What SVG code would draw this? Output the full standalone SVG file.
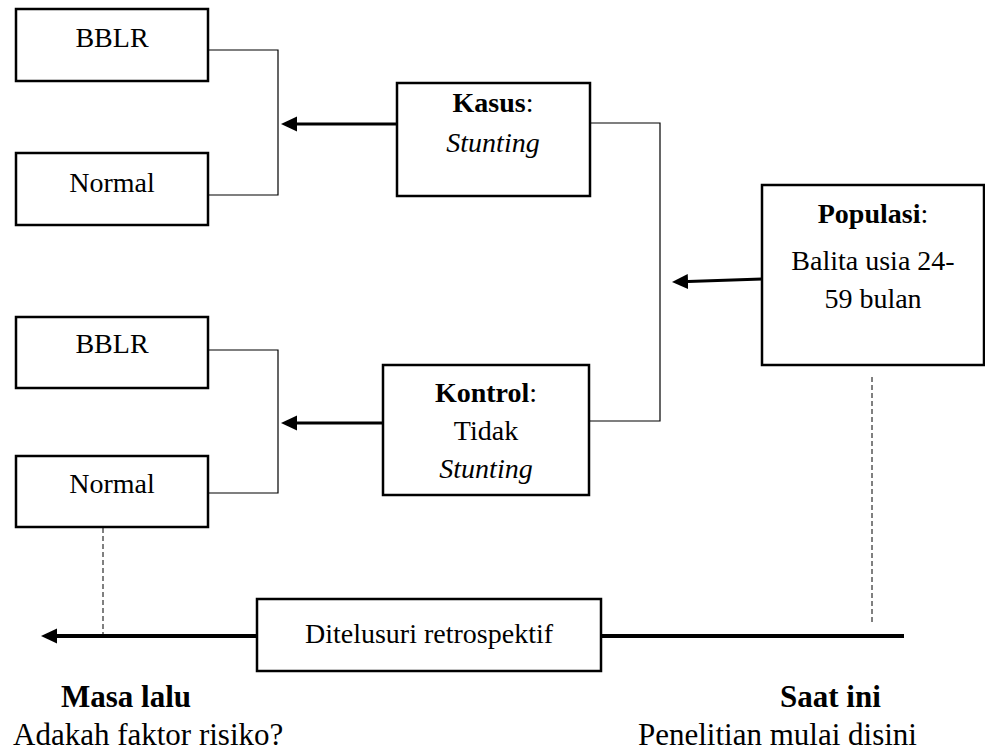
<svg xmlns="http://www.w3.org/2000/svg" width="985" height="753" viewBox="0 0 985 753">
<style>
.box{fill:#fff;stroke:#000;stroke-width:2.5}
text{font-family:'Liberation Serif','Times New Roman','DejaVu Serif',serif;fill:#000}
.t{font-size:28px}
.tb{font-size:31px}
.c{text-anchor:middle}
.thin{fill:none;stroke:#000;stroke-width:1.2}
.arr{fill:none;stroke:#000;stroke-width:3}
.dash{fill:none;stroke:#000;stroke-width:1;stroke-dasharray:5 3}
</style>
<defs>
<marker id="ah" markerUnits="userSpaceOnUse" markerWidth="16" markerHeight="16" refX="0" refY="8" orient="auto" viewBox="0 0 16 16">
<path d="M0,0.5 L16,8 L0,15.5 z" fill="#000"/>
</marker>
</defs>
<rect width="985" height="753" fill="#fff"/>
<g id="connectors">
<polyline class="thin" points="208,50 278,50 278,195 208,195"/>
<polyline class="thin" points="208,350 278,350 278,493 208,493"/>
<polyline class="thin" points="590,123 660,123 660,421 589,421"/>
<line class="arr" x1="397" y1="124" x2="297" y2="124" marker-end="url(#ah)"/>
<line class="arr" x1="383" y1="423" x2="297" y2="423" marker-end="url(#ah)"/>
<line class="arr" x1="762" y1="279" x2="688" y2="281.5" marker-end="url(#ah)"/>
<line class="dash" x1="103" y1="528" x2="103" y2="634"/>
<line class="dash" x1="872" y1="377" x2="872" y2="623"/>
<line fill="none" stroke="#000" stroke-width="4" x1="904" y1="636" x2="57" y2="636" marker-end="url(#ah)"/>
</g>
<g id="bblr1"><rect class="box" x="16" y="9" width="192" height="72"/><text class="t c" x="112" y="47">BBLR</text></g>
<g id="normal1"><rect class="box" x="16" y="153" width="192" height="72"/><text class="t c" x="112" y="192">Normal</text></g>
<g id="bblr2"><rect class="box" x="16" y="317" width="192" height="71"/><text class="t c" x="112" y="353">BBLR</text></g>
<g id="normal2"><rect class="box" x="16" y="456" width="192" height="71"/><text class="t c" x="112" y="493">Normal</text></g>
<g id="kasus"><rect class="box" x="397" y="83" width="193" height="113"/>
<text class="t c" x="493" y="112"><tspan font-weight="bold">Kasus</tspan>:</text>
<text class="t c" x="493" y="152" font-style="italic">Stunting</text></g>
<g id="kontrol"><rect class="box" x="383" y="365" width="206" height="130"/>
<text class="t c" x="486" y="402"><tspan font-weight="bold">Kontrol</tspan>:</text>
<text class="t c" x="486" y="440">Tidak</text>
<text class="t c" x="486" y="478" font-style="italic">Stunting</text></g>
<g id="populasi"><rect class="box" x="762" y="185" width="222" height="180"/>
<text class="t c" x="873" y="223"><tspan font-weight="bold">Populasi</tspan>:</text>
<text class="t c" x="873" y="270">Balita usia 24-</text>
<text class="t c" x="873" y="308">59 bulan</text></g>
<g id="retro"><rect class="box" x="257" y="599" width="344" height="72"/>
<text class="t c" x="429" y="643">Ditelusuri retrospektif</text></g>
<g id="labels">
<text class="tb" x="61" y="707" font-weight="bold">Masa lalu</text>
<text class="tb" x="13" y="745">Adakah faktor risiko?</text>
<text class="tb" x="780" y="707" font-weight="bold">Saat ini</text>
<text class="tb" x="638" y="745">Penelitian mulai disini</text>
</g>
</svg>
